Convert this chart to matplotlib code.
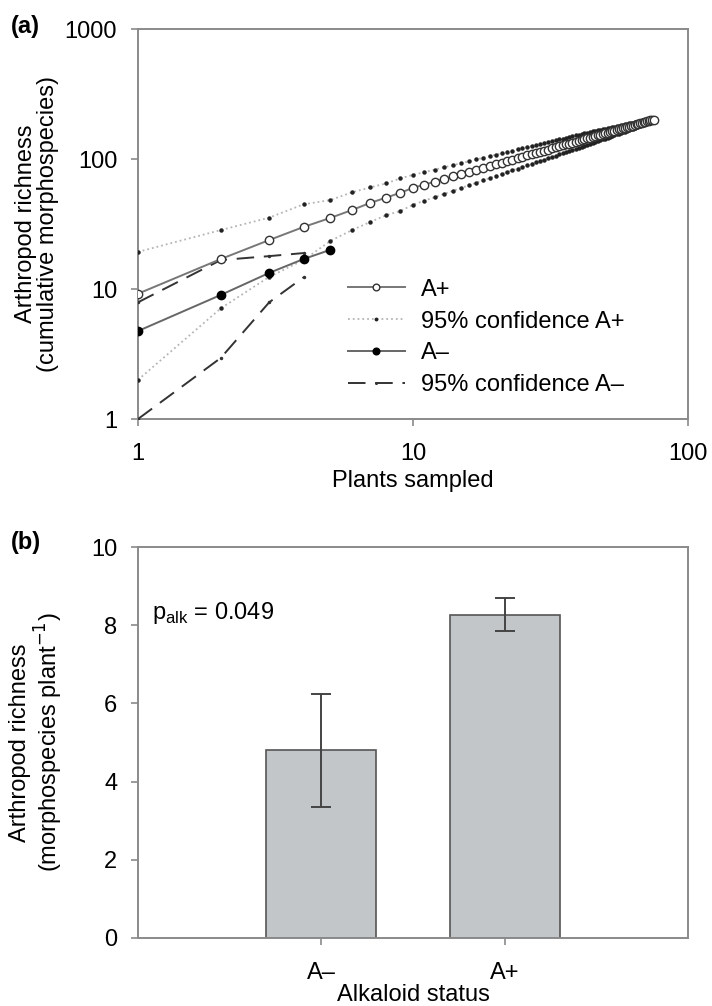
import matplotlib
matplotlib.use("Agg")
import matplotlib.pyplot as plt
import numpy as np

plt.rcParams['font.family'] = ['Liberation Sans', 'DejaVu Sans']

# ---------------- Panel (a) data ----------------
plants_aplus = list(range(1, 76))
rich_aplus = [9.2, 17.0, 23.8, 30.0, 35.2, 40.5, 46.0, 50.5, 55.0, 60.0,
              63.5, 66.9, 70.2, 73.4, 76.5, 79.5, 82.5, 85.4, 88.2, 90.9,
              93.6, 96.3, 98.9, 101.5, 104.0, 106.4, 108.9, 111.3, 113.7, 116.0,
              118.3, 120.6, 122.8, 125.0, 127.2, 129.4, 131.5, 133.7, 135.8, 137.8,
              139.9, 141.9, 144.0, 146.0, 147.9, 149.9, 151.9, 153.8, 155.7, 157.6,
              159.5, 161.3, 163.2, 165.0, 166.9, 168.7, 170.5, 172.3, 174.0, 175.8,
              177.6, 179.3, 181.0, 182.8, 184.5, 186.2, 187.8, 189.5, 191.2, 192.8,
              194.5, 196.1, 197.8, 199.4, 201.0]
ci_aplus_upper = [19.3, 28.4, 35.4, 44.8, 48.3, 55.4, 60.5, 65.0, 71.0, 75.5,
                  79.2, 82.9, 86.4, 89.8, 93.0, 96.1, 99.2, 102.2, 105.1, 107.9,
                  110.6, 113.3, 115.9, 118.5, 121.0, 123.4, 125.9, 128.3, 130.7, 133.0,
                  135.2, 137.4, 139.5, 141.6, 143.7, 145.8, 147.8, 149.9, 151.9, 153.8,
                  155.7, 157.5, 159.4, 161.2, 162.9, 164.7, 166.5, 168.2, 169.9, 171.6,
                  173.2, 174.7, 176.3, 177.8, 179.4, 180.9, 182.4, 183.9, 185.3, 186.8,
                  188.1, 189.3, 190.5, 191.8, 193.0, 194.1, 195.1, 196.2, 197.3, 198.3,
                  199.0, 199.6, 200.3, 200.7, 201.0]
ci_aplus_lower = [2.0, 7.1, 12.4, 16.7, 23.4, 28.4, 32.8, 37.0, 39.8, 44.5,
                  47.8, 50.9, 54.0, 57.0, 60.0, 62.9, 65.8, 68.6, 71.3, 73.9,
                  76.6, 79.3, 81.9, 84.5, 87.0, 89.4, 91.9, 94.3, 96.7, 99.0,
                  101.4, 103.8, 106.1, 108.4, 110.7, 113.0, 115.2, 117.5, 119.7, 121.8,
                  124.1, 126.3, 128.6, 130.8, 132.9, 135.1, 137.3, 139.4, 141.5, 143.6,
                  145.8, 147.9, 150.1, 152.2, 154.4, 156.5, 158.6, 160.7, 162.7, 164.8,
                  167.1, 169.3, 171.5, 173.8, 176.0, 178.3, 180.5, 182.8, 185.1, 187.3,
                  190.0, 192.6, 195.3, 198.1, 201.0]

plants_aminus = [1, 2, 3, 4, 5]
rich_aminus = [4.75, 9.0, 13.3, 17.0, 20.0]
plants_ci_aminus = [1, 2, 3, 4]
ci_aminus_upper = [7.9, 16.7, 17.9, 18.9]
ci_aminus_lower = [1.0, 2.95, 7.9, 12.3]

x_ticks_a = [1, 10, 100]
y_ticks_a = [1, 10, 100, 1000]

# ---------------- Panel (b) data ----------------
status = ['A\u2013', 'A+']
richness_mean = [4.8, 8.27]
richness_err = [1.45, 0.43]
y_ticks_b = [0, 2, 4, 6, 8, 10]

W, H = 712, 1006
fig = plt.figure(figsize=(W / 100, H / 100), dpi=100)

def axbox(l, t, r, b):
    return [l / W, 1 - b / H, (r - l) / W, (b - t) / H]

spine_c = '#8a8a8a'
fs = 17

# ---------- (a) ----------
ax1 = fig.add_axes(axbox(138, 29, 688, 419))
ax1.set_xscale('log')
ax1.set_yscale('log')
l1, = ax1.plot(plants_aplus, rich_aplus, '-', color='#777777', lw=1.4,
               marker='o', ms=6, mfc='white', mec='#333333', mew=1.0, zorder=4)
l2, = ax1.plot(plants_aplus, ci_aplus_upper, ':', color='#b5b5b5', lw=1.3,
               marker='o', ms=2.2, mfc='#222222', mec='#222222', zorder=3)
ax1.plot(plants_aplus, ci_aplus_lower, ':', color='#b5b5b5', lw=1.3,
         marker='o', ms=2.2, mfc='#222222', mec='#222222', zorder=3)
l3, = ax1.plot(plants_aminus, rich_aminus, '-', color='#666666', lw=1.4,
               marker='o', ms=6, mfc='black', mec='black', zorder=4)
l4, = ax1.plot(plants_ci_aminus, ci_aminus_upper, '--', color='#333333', lw=1.4,
               dashes=(9, 5), marker='o', ms=1.5, mfc='#333333', mec='#333333', zorder=3)
ax1.plot(plants_ci_aminus, ci_aminus_lower, '--', color='#333333', lw=1.4,
         dashes=(9, 5), marker='o', ms=1.5, mfc='#333333', mec='#333333', zorder=3)

ax1.set_xlim(1, 100)
ax1.set_ylim(1, 1000)
ax1.set_xticks(x_ticks_a)
ax1.set_xticklabels([str(v) for v in x_ticks_a])
ax1.set_yticks(y_ticks_a)
ax1.set_yticklabels([str(v) for v in y_ticks_a])
ax1.minorticks_off()
ax1.set_xlabel('Plants sampled', fontsize=fs)
ax1.set_ylabel('Arthropod richness\n(cumulative morphospecies)', fontsize=fs,
               linespacing=1.05)
ax1.xaxis.set_label_coords(0.5, 1 - (481 - 29) / 390, transform=ax1.transAxes)
ax1.yaxis.set_label_coords(-(138 - 37) / 550, 0.5)
ax1.xaxis.label.set_va('center')
ax1.yaxis.label.set_va('center')

leg = ax1.legend([l1, l2, l3, l4],
                 ['A+', '95% confidence A+', 'A\u2013', '95% confidence A\u2013'],
                 loc='center left', bbox_to_anchor=(0.382, 0.209),
                 frameon=False, fontsize=fs, handlelength=2.4, handletextpad=0.7,
                 labelspacing=0.42, borderpad=0, borderaxespad=0, markerscale=0.8)

# ---------- (b) ----------
ax2 = fig.add_axes(axbox(138, 547, 688, 938))
xpos = np.arange(len(status))
ax2.bar(xpos, richness_mean, width=0.6, color='#c3c6c9', edgecolor='#555555', lw=1.2, zorder=2)
ax2.errorbar(xpos, richness_mean, yerr=richness_err, fmt='none', ecolor='#444444',
             elinewidth=1.4, capsize=7, capthick=1.4, zorder=3)
ax2.set_xlim(-1, 2)
ax2.set_ylim(0, 10)
ax2.set_xticks(xpos)
ax2.set_xticklabels(status)
ax2.set_yticks(y_ticks_b)
ax2.set_xlabel('Alkaloid status', fontsize=fs)
ax2.set_ylabel('Arthropod richness\n(morphospecies plant$^{-1}$)', fontsize=fs,
               linespacing=1.05)
ax2.xaxis.set_label_coords(0.5, 1 - (995 - 547) / 391, transform=ax2.transAxes)
ax2.yaxis.set_label_coords(-(138 - 37) / 550, 0.5)
ax2.xaxis.label.set_va('center')
ax2.yaxis.label.set_va('center')
ax2.text(0.025, 0.83, r'p$_{\mathregular{alk}}$ = 0.049', transform=ax2.transAxes,
         fontsize=fs, ha='left', va='center')

for ax in (ax1, ax2):
    for s in ax.spines.values():
        s.set_color(spine_c)
        s.set_linewidth(1.4)
    ax.tick_params(direction='out', length=5, width=1.2, color=spine_c,
                   labelsize=fs)
    ax.tick_params(axis='y', pad=10)
    ax.tick_params(axis='x', pad=12)

fig.text(11 / W, 1 - 27 / H, '(a)', fontsize=17, fontweight='bold', va='center', ha='left')
fig.text(11 / W, 1 - 542 / H, '(b)', fontsize=17, fontweight='bold', va='center', ha='left')

fig.savefig('out.png', dpi=100)
